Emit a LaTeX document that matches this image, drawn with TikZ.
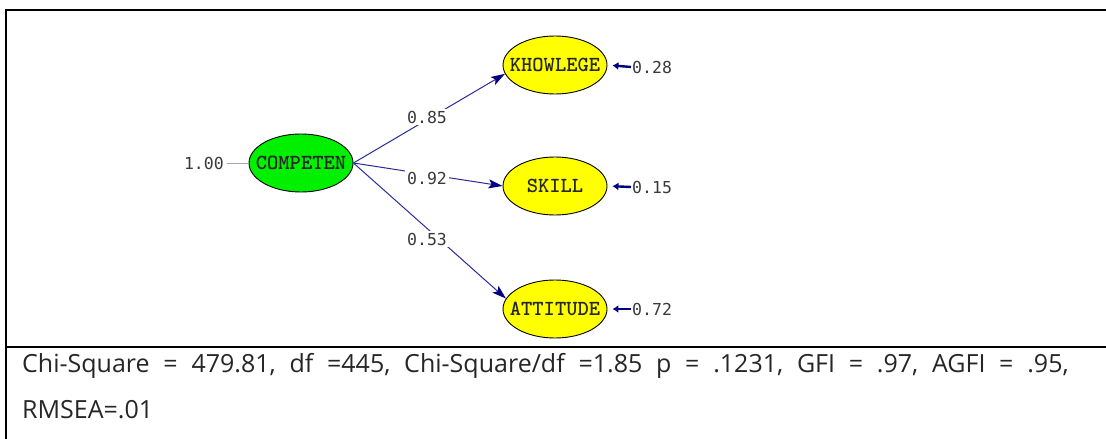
\documentclass[tikz,border=0pt]{standalone}
\usepackage{fontspec}
\setmainfont{Open Sans}
\newfontfamily\pathfont{DejaVu Sans Mono}
\newfontfamily\fitfont{Open Sans}[WordSpace=2.12]
\usetikzlibrary{arrows.meta,shapes.geometric}

\definecolor{pathblue}{HTML}{2A2A9A}
\definecolor{tipblue}{HTML}{000080}
\definecolor{numgray}{HTML}{3A3A3A}
\definecolor{latentgreen}{HTML}{00F000}
\definecolor{latentyellow}{HTML}{FFFF00}

% a label that does not widen its ellipse
\newcommand\flatname[1]{\makebox[0pt]{#1}}

\tikzset{
  latent/.style={ellipse, draw=black, line width=0.9pt, minimum width=104pt,
    minimum height=58pt, inner sep=0pt,
    font=\ttfamily\bfseries\fontsize{21.5}{21.5}\selectfont, text=black!85},
  coef/.style={fill=white, inner sep=2pt, text=numgray,
    font=\pathfont\fontsize{16.5}{16.5}\selectfont},
  errval/.style={inner sep=1pt, anchor=west, text=numgray,
    font=\pathfont\fontsize{16.5}{16.5}\selectfont},
  loading/.style={draw=pathblue, line width=1pt,
    -{Stealth[length=14pt, width=9pt, inset=3pt, color=tipblue]}},
  errpath/.style={draw=tipblue, line width=2.4pt, shorten >=5pt,
    -{Latex[length=6pt, width=8pt]}},
  frame/.style={line width=2pt, black},
  fitline/.style={anchor=base west, inner sep=0pt,
    font=\fitfont\fontsize{25}{25}\selectfont, text=black!85}
}

\begin{document}
\begin{tikzpicture}[x=1pt, y=-1pt]
  \useasboundingbox (0,0) rectangle (1106,439);

  % frame of the figure and the separator above the fit statistics
  \draw[frame] (1106,10) -- (6,10) -- (6,439);
  \draw[frame] (6,347) -- (1106,347);

  % latent variables
  \node[latent, fill=latentgreen]  (comp)  at (301,163) {\flatname{COMPETEN}};
  \node[latent, fill=latentyellow] (know)  at (555,65)  {\flatname{KHOWLEGE}};
  \node[latent, fill=latentyellow] (skill) at (555,186) {\flatname{SKILL}};
  \node[latent, fill=latentyellow] (att)   at (555,309) {\flatname{ATTITUDE}};

  % fixed variance of the factor
  \node[errval, anchor=east, inner sep=0pt] (var) at (224,163) {1.00};
  \draw[gray!70, line width=1pt] (var.east) ++(3,0) coordinate (vstart) -- (comp.west);

  % loadings
  \draw[loading] (comp.east) -- (know.190);
  \draw[loading] (comp.east) -- (skill.west);
  \draw[loading] (comp.east) -- (att.168);
  \node[coef] (l1) at (427,117) {0.85};
  \node[coef] (l2) at (427,178) {0.92};
  \node[coef] (l3) at (427,239) {0.53};

  % error variances
  \node[errval] (e1) at (631,67)  {0.28};
  \node[errval] (e2) at (631,187) {0.15};
  \node[errval] (e3) at (631,309) {0.72};
  \draw[errpath] (e1.west) -- (know.east);
  \draw[errpath] (e2.west) -- (skill.east);
  \draw[errpath] (e3.west) -- (att.east);

  % fit statistics
  \node[fitline] (fit1) at (22,372)
    {Chi-Square = 479.81, df =445, Chi-Square/df =1.85 p = .1231, GFI = .97, AGFI = .95,};
  \node[fitline] (fit2) at (22,418) {RMSEA=.01};
\end{tikzpicture}
\end{document}
